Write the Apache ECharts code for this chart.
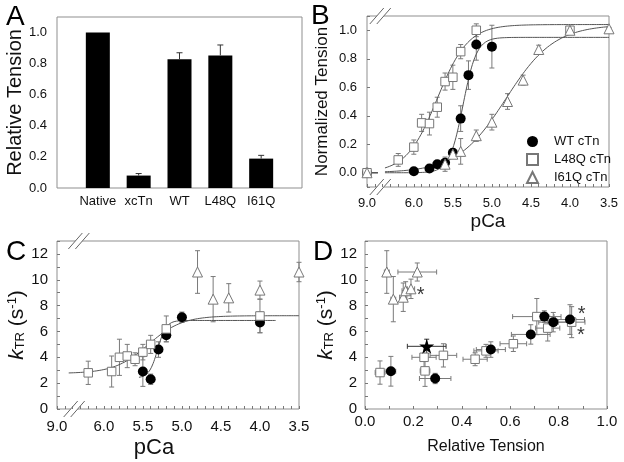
<!DOCTYPE html>
<html><head><meta charset="utf-8">
<script src="https://cdn.jsdelivr.net/npm/echarts@6/dist/echarts.min.js"></script>
<style>html,body{margin:0;padding:0;background:#fff}#c{width:624px;height:462px}</style>
</head><body><div id="c"></div>
<script>
// ---------- Panel A ----------
const aCategories = ['Native', 'xcTn', 'WT', 'L48Q', 'I61Q'];
const aPositions = [1, 2, 3, 4, 5];
const aTension = [1.0, 0.08, 0.828, 0.853, 0.189];
const aTensionErr = [0, 0.013, 0.042, 0.067, 0.021];

// ---------- Panel B (pCa, normalized tension, error) ----------
const bWT_pCa = [9.0, 6.0, 5.8, 5.7, 5.6, 5.5, 5.4, 5.3, 5.2, 5.0];
const bWT_T   = [0.0, 0.01, 0.03, 0.06, 0.07, 0.14, 0.38, 0.685, 0.90, 0.885];
const bWT_err = [0, 0.01, 0.01, 0.015, 0.02, 0.03, 0.09, 0.10, 0.11, 0.15];
const bL48Q_pCa = [9.0, 6.2, 6.0, 5.9, 5.8, 5.7, 5.6, 5.5, 5.4, 5.2, 4.0];
const bL48Q_T   = [0.0, 0.09, 0.18, 0.35, 0.345, 0.46, 0.64, 0.67, 0.85, 1.0, 1.0];
const bL48Q_err = [0, 0.045, 0.05, 0.06, 0.08, 0.07, 0.06, 0.085, 0.05, 0.045, 0.02];
const bI61Q_pCa = [9.0, 5.6, 5.5, 5.4, 5.2, 5.0, 4.8, 4.6, 4.4, 4.0, 3.5];
const bI61Q_T   = [0.0, 0.06, 0.13, 0.15, 0.26, 0.355, 0.50, 0.65, 0.865, 1.0, 1.01];
const bI61Q_err = [0, 0.05, 0.03, 0.09, 0.04, 0.055, 0.055, 0.035, 0.03, 0.02, 0.01];
// Hill fit parameters [min, max, pCa50, n]
const bFitWT   = [0, 0.95, 5.37, 5];
const bFitL48Q = [0, 1.04, 5.70, 2.2];
const bFitI61Q = [0, 1.04, 4.82, 1.4];

// ---------- Panel C (pCa, kTR, error) ----------
const cWT_pCa = [5.5, 5.4, 5.3, 5.2, 5.0, 4.0];
const cWT_k   = [2.9, 2.3, 4.6, 5.7, 7.1, 6.7];
const cWT_err = [1.15, 0.4, 0.6, 0.5, 0.4, 0.8];
const cL48Q_pCa = [6.2, 5.9, 5.8, 5.7, 5.6, 5.5, 5.4, 5.2, 4.0];
const cL48Q_k   = [2.8, 2.9, 4.0, 4.1, 3.85, 4.4, 5.0, 6.2, 7.2];
const cL48Q_err = [0.9, 1.2, 1.4, 0.9, 0.5, 0.6, 0.7, 1.0, 1.3];
const cI61Q_pCa = [4.8, 4.6, 4.4, 4.0, 3.5];
const cI61Q_k   = [10.6, 8.5, 8.6, 9.2, 10.6];
const cI61Q_err = [1.65, 1.75, 1.1, 0.7, 0.75];
const cFitWT   = [2.4, 6.85, 5.31, 8];
const cFitL48Q = [2.75, 7.22, 5.43, 2];
const cFitWTRange   = [5.55, 3.8];
const cFitL48QRange = [6.45, 3.5];

// ---------- Panel D (relative tension, kTR, tension err, kTR err) ----------
const dWT_T    = [0.107, 0.29, 0.52, 0.685, 0.741, 0.778, 0.847];
const dWT_k    = [2.92, 2.36, 4.6, 5.77, 7.15, 6.72, 6.92];
const dWT_Terr = [0.02, 0.065, 0.06, 0.08, 0.04, 0.06, 0.06];
const dWT_kerr = [1.15, 0.4, 0.6, 0.75, 0.45, 0.75, 1.15];
const dL48Q_T    = [0.062, 0.244, 0.248, 0.324, 0.455, 0.5, 0.613, 0.71, 0.755, 0.854];
const dL48Q_k    = [2.82, 4.0, 2.95, 4.15, 3.85, 4.5, 5.05, 7.15, 6.26, 6.72];
const dL48Q_Terr = [0.02, 0.05, 0.02, 0.055, 0.05, 0.05, 0.055, 0.1, 0.05, 0.055];
const dL48Q_kerr = [0.9, 0.9, 1.2, 0.9, 0.5, 0.5, 0.6, 1.4, 1.0, 1.2];
const dI61Q_T    = [0.09, 0.117, 0.158, 0.168, 0.19, 0.216];
const dI61Q_k    = [10.6, 8.5, 8.65, 9.15, 9.3, 10.6];
const dI61Q_Terr = [0.01, 0.01, 0.015, 0.015, 0.015, 0.08];
const dI61Q_kerr = [1.65, 1.75, 1.1, 0.7, 0.75, 0.7];
const dStar_T = [0.255], dStar_k = [4.85], dStar_Terr = [0.08], dStar_kerr = [0.55];
const dAsterisk_T = [0.23, 0.895, 0.892];
const dAsterisk_k = [9.1, 7.6, 6.0];

// ---------- helpers ----------
const FONT = '"Liberation Sans", Arial, Helvetica, sans-serif';
const BREAK_POS = 6.6;           // display position of pCa 9.0 (axis break)
const px = p => (p > 7 ? BREAK_POS : p);
const ERR_COLOR = '#7a7a7a';
const LINE_COLOR = '#555';
const FRAME = '#8f8f8f';

function hill(f, p) { return f[0] + (f[1] - f[0]) / (1 + Math.pow(10, f[3] * (p - f[2]))); }
function curve(f, from, to) {
  const out = [];
  for (let p = from; p >= to - 1e-9; p -= 0.01) out.push([+p.toFixed(3), hill(f, p)]);
  return out;
}
function zip(xs, ys, mapX) { return xs.map((x, i) => [mapX ? mapX(x) : x, ys[i]]); }
function zipErr(xs, ys, exs, eys, mapX) {
  return xs.map((x, i) => [mapX ? mapX(x) : x, ys[i], exs ? exs[i] : 0, eys[i]]);
}

function errSeries(idx, data, opts) {
  opts = opts || {};
  const cap = opts.cap || 2.5;
  const color = opts.color || ERR_COLOR;
  return {
    type: 'custom', xAxisIndex: idx, yAxisIndex: idx, z: 2, silent: true,
    dimensions: ['x', 'y', 'ex', 'ey'], encode: { x: 0, y: 1 },
    data: data,
    renderItem: function (params, api) {
      const x = api.value(0), y = api.value(1), ex = api.value(2), ey = api.value(3);
      const st = { stroke: color, lineWidth: 1, fill: null };
      const ch = [];
      if (ey > 0) {
        const t = api.coord([x, y + ey]);
        const b = api.coord([x, opts.upOnly ? y : y - ey]);
        ch.push({ type: 'line', shape: { x1: t[0], y1: t[1], x2: b[0], y2: b[1] }, style: st });
        ch.push({ type: 'line', shape: { x1: t[0] - cap, y1: t[1], x2: t[0] + cap, y2: t[1] }, style: st });
        if (!opts.upOnly) ch.push({ type: 'line', shape: { x1: b[0] - cap, y1: b[1], x2: b[0] + cap, y2: b[1] }, style: st });
      }
      if (ex > 0) {
        const l = api.coord([x - ex, y]), r = api.coord([x + ex, y]);
        ch.push({ type: 'line', shape: { x1: l[0], y1: l[1], x2: r[0], y2: r[1] }, style: st });
        ch.push({ type: 'line', shape: { x1: l[0], y1: l[1] - cap, x2: l[0], y2: l[1] + cap }, style: st });
        ch.push({ type: 'line', shape: { x1: r[0], y1: r[1] - cap, x2: r[0], y2: r[1] + cap }, style: st });
      }
      return { type: 'group', children: ch };
    }
  };
}
const styleCircle = { symbol: 'circle', symbolSize: 10, itemStyle: { color: '#000', borderColor: '#000', borderWidth: 0, opacity: 1 } };
const styleSquare = { symbol: 'rect', symbolSize: 8.5, itemStyle: { color: '#fff', borderColor: '#777', borderWidth: 1, opacity: 1 } };
const styleTri = { symbol: 'triangle', symbolSize: 10, itemStyle: { color: '#fff', borderColor: '#777', borderWidth: 1, opacity: 1 } };
function scatter(name, idx, data, st, z) {
  return Object.assign({ type: 'scatter', name: name, xAxisIndex: idx, yAxisIndex: idx, z: z || 3, silent: true, data: data }, st);
}
function lineS(idx, data) {
  return { type: 'line', xAxisIndex: idx, yAxisIndex: idx, z: 2, silent: true, showSymbol: false, symbol: 'none',
    lineStyle: { color: LINE_COLOR, width: 1 }, data: data };
}
const tickStyle = { show: true, inside: true, length: 3, lineStyle: { color: '#777' } };
const lbl = (size, margin, fmt) => ({ fontFamily: FONT, fontSize: size, color: '#111', margin: margin, formatter: fmt });
const isMult = (v, step) => Math.abs(v / step - Math.round(v / step)) < 1e-6;
const pCaFmt = v => (Math.abs(v - BREAK_POS) < 1e-6 ? '9.0' : (v <= 6.0001 && isMult(v, 0.5) ? v.toFixed(1) : ''));

const grids = [
  { left: 57, top: 17, width: 245, height: 171 },
  { left: 367, top: 16, width: 242, height: 171 },
  { left: 57, top: 241, width: 242, height: 168 },
  { left: 365, top: 241, width: 242, height: 168 }
].map(g => Object.assign({ show: true, borderColor: FRAME, borderWidth: 1, backgroundColor: 'transparent', containLabel: false }, g));

const axisBase = { type: 'value', splitLine: { show: false }, axisLine: { show: false, onZero: false } };

const xAxes = [
  Object.assign({}, axisBase, { gridIndex: 0, min: 0, max: 6, interval: 1, axisTick: { show: false },
    axisLabel: lbl(13, 7, v => aCategories[aPositions.indexOf(v)] || '') }),
  Object.assign({}, axisBase, { gridIndex: 1, inverse: true, min: 3.5, max: BREAK_POS, interval: 0.1, axisTick: tickStyle,
    axisLabel: lbl(13, 10, pCaFmt), name: 'pCa', nameLocation: 'middle', nameGap: 25,
    nameTextStyle: { fontFamily: FONT, fontSize: 19, color: '#111' } }),
  Object.assign({}, axisBase, { gridIndex: 2, inverse: true, min: 3.5, max: BREAK_POS, interval: 0.1, axisTick: tickStyle,
    axisLabel: lbl(15, 10, pCaFmt), name: 'pCa', nameLocation: 'middle', nameGap: 28,
    nameTextStyle: { fontFamily: FONT, fontSize: 22, color: '#111', padding: [0, 48, 0, 0] } }),
  Object.assign({}, axisBase, { gridIndex: 3, min: 0, max: 1, interval: 0.1, axisTick: tickStyle,
    axisLabel: lbl(15, 5, v => (isMult(v, 0.2) ? v.toFixed(1) : '')), name: 'Relative Tension', nameLocation: 'middle', nameGap: 30,
    nameTextStyle: { fontFamily: FONT, fontSize: 16, color: '#111' } })
];
const kName = '{i|k}{s|TR}{n| (s}{p|-1}{n|)}';
const kRich = {
  i: { fontFamily: FONT, fontSize: 21, fontStyle: 'italic', color: '#111' },
  s: { fontFamily: FONT, fontSize: 13, color: '#111', verticalAlign: 'bottom', padding: [8, 0, 0, 0] },
  n: { fontFamily: FONT, fontSize: 21, color: '#111' },
  p: { fontFamily: FONT, fontSize: 13, color: '#111', verticalAlign: 'top', padding: [0, 0, 8, 0] }
};
const yAxes = [
  Object.assign({}, axisBase, { gridIndex: 0, min: 0, max: 1.1, interval: 0.2, axisTick: { show: false },
    axisLabel: lbl(13, 10, v => (v <= 1.0001 ? v.toFixed(1) : '')), name: 'Relative Tension', nameLocation: 'middle', nameGap: 30,
    nameTextStyle: { fontFamily: FONT, fontSize: 20, color: '#111' } }),
  Object.assign({}, axisBase, { gridIndex: 1, min: -0.1, max: 1.1, splitNumber: 6, axisTick: tickStyle,
    axisLabel: lbl(13, 10, v => (v > -0.001 && v < 1.001 && isMult(v, 0.2) ? v.toFixed(1) : '')),
    name: 'Normalized Tension', nameLocation: 'middle', nameGap: 36,
    nameTextStyle: { fontFamily: FONT, fontSize: 17, color: '#111' } }),
  Object.assign({}, axisBase, { gridIndex: 2, min: 0, max: 13, interval: 1, axisTick: tickStyle,
    axisLabel: lbl(15, 9, v => (v % 2 === 0 && v <= 12 ? String(v) : '')), name: kName, nameLocation: 'middle', nameGap: 27,
    nameTextStyle: { rich: kRich } }),
  Object.assign({}, axisBase, { gridIndex: 3, min: 0, max: 13, interval: 1, axisTick: tickStyle,
    axisLabel: lbl(15, 8, v => (v % 2 === 0 && v <= 12 ? String(v) : '')), name: kName, nameLocation: 'middle', nameGap: 27,
    nameTextStyle: { rich: kRich } })
];

const series = [];
// A
series.push({ type: 'bar', xAxisIndex: 0, yAxisIndex: 0, barWidth: 24, silent: true, z: 2,
  itemStyle: { color: '#000' }, data: zip(aPositions, aTension) });
series.push(Object.assign(errSeries(0, zipErr(aPositions, aTension, null, aTensionErr), { upOnly: true, color: '#333', cap: 3 }), { z: 3 }));
// B
series.push(errSeries(1, zipErr(bWT_pCa, bWT_T, null, bWT_err, px)));
series.push(errSeries(1, zipErr(bL48Q_pCa, bL48Q_T, null, bL48Q_err, px)));
series.push(errSeries(1, zipErr(bI61Q_pCa, bI61Q_T, null, bI61Q_err, px)));
[bFitWT, bFitL48Q, bFitI61Q].forEach(f => {
  series.push(lineS(1, [[BREAK_POS, hill(f, 9.0)], [6.46, hill(f, 9.0)]]));
  series.push(lineS(1, curve(f, 6.37, 3.5)));
});
series.push(scatter('WT cTn', 1, zip(bWT_pCa, bWT_T, px), styleCircle, 3));
series.push(scatter('L48Q cTn', 1, zip(bL48Q_pCa, bL48Q_T, px), styleSquare, 4));
series.push(scatter('I61Q cTn', 1, zip(bI61Q_pCa, bI61Q_T, px), styleTri, 5));
// C
series.push(errSeries(2, zipErr(cWT_pCa, cWT_k, null, cWT_err, px)));
series.push(errSeries(2, zipErr(cL48Q_pCa, cL48Q_k, null, cL48Q_err, px)));
series.push(errSeries(2, zipErr(cI61Q_pCa, cI61Q_k, null, cI61Q_err, px)));
series.push(lineS(2, curve(cFitL48Q, cFitL48QRange[0], cFitL48QRange[1])));
series.push(lineS(2, curve(cFitWT, cFitWTRange[0], cFitWTRange[1])));
series.push(scatter('WT C', 2, zip(cWT_pCa, cWT_k, px), styleCircle, 3));
series.push(scatter('L48Q C', 2, zip(cL48Q_pCa, cL48Q_k, px), styleSquare, 4));
series.push(scatter('I61Q C', 2, zip(cI61Q_pCa, cI61Q_k, px), styleTri, 5));
// D
series.push(errSeries(3, zipErr(dWT_T, dWT_k, dWT_Terr, dWT_kerr)));
series.push(errSeries(3, zipErr(dL48Q_T, dL48Q_k, dL48Q_Terr, dL48Q_kerr)));
series.push(errSeries(3, zipErr(dI61Q_T, dI61Q_k, dI61Q_Terr, dI61Q_kerr)));
series.push(errSeries(3, zipErr(dStar_T, dStar_k, dStar_Terr, dStar_kerr), { color: '#333' }));
series.push(scatter('L48Q D', 3, zip(dL48Q_T, dL48Q_k), styleSquare, 3));
series.push(scatter('WT D', 3, zip(dWT_T, dWT_k), styleCircle, 4));
series.push(scatter('I61Q D', 3, zip(dI61Q_T, dI61Q_k), styleTri, 5));
series.push(scatter('Star D', 3, zip(dStar_T, dStar_k), {
  symbol: 'path://M50,0 L61,35 L98,35 L68,57 L79,91 L50,70 L21,91 L32,57 L2,35 L39,35 Z',
  symbolSize: 15, itemStyle: { color: '#000', opacity: 1 } }, 6));
series.push(scatter('Asterisk D', 3, zip(dAsterisk_T, dAsterisk_k), {
  symbol: 'circle', symbolSize: 1, itemStyle: { color: 'rgba(0,0,0,0)' },
  label: { show: true, formatter: '*', position: 'inside', offset: [0, 4], fontFamily: FONT, fontSize: 20, color: '#000' } }, 6));

const panelLetters = ['A', 'B', 'C', 'D'];
const letterPos = [[6, 3], [311, 2], [6, 238], [313, 238]];

const chart = echarts.init(document.getElementById('c'), null, { renderer: 'canvas' });
chart.setOption({
  animation: false,
  backgroundColor: '#fff',
  textStyle: { fontFamily: FONT },
  grid: grids,
  xAxis: xAxes,
  yAxis: yAxes,
  legend: {
    data: ['WT cTn', 'L48Q cTn', 'I61Q cTn'], orient: 'vertical', left: 521, top: 130,
    itemWidth: 11, itemHeight: 11, itemGap: 5, selectedMode: false,
    textStyle: { fontFamily: FONT, fontSize: 13, color: '#111', lineHeight: 13, padding: [0, 0, 0, 11] }
  },
  series: series,
  graphic: panelLetters.map((t, i) => ({ type: 'text', left: letterPos[i][0], top: letterPos[i][1],
    style: { text: t, font: '28px ' + FONT, fill: '#000' } }))
});

// axis break marks ("//") on panels B and C
function breakMark(gi, xVal, yVal) {
  const p = chart.convertToPixel({ xAxisIndex: gi, yAxisIndex: gi }, [xVal, yVal]);
  const h = 8, w = 7, d = 3.5;
  return { type: 'group', x: p[0], y: p[1], z: 100, children: [
    { type: 'polygon', shape: { points: [[-w - d, h], [w - d, -h], [w + d, -h], [-w + d, h]] }, style: { fill: '#fff', stroke: null } },
    { type: 'line', shape: { x1: -w - d, y1: h, x2: w - d, y2: -h }, style: { stroke: '#666', lineWidth: 1 } },
    { type: 'line', shape: { x1: -w + d, y1: h, x2: w + d, y2: -h }, style: { stroke: '#666', lineWidth: 1 } }
  ] };
}
const breaks = [breakMark(1, 6.43, -0.1), breakMark(1, 6.43, 1.1), breakMark(2, 6.38, 0), breakMark(2, 6.32, 13)];
chart.setOption({ graphic: panelLetters.map((t, i) => ({ type: 'text', left: letterPos[i][0], top: letterPos[i][1],
  style: { text: t, font: '28px ' + FONT, fill: '#000' } })).concat(breaks) });
</script>
</body></html>
